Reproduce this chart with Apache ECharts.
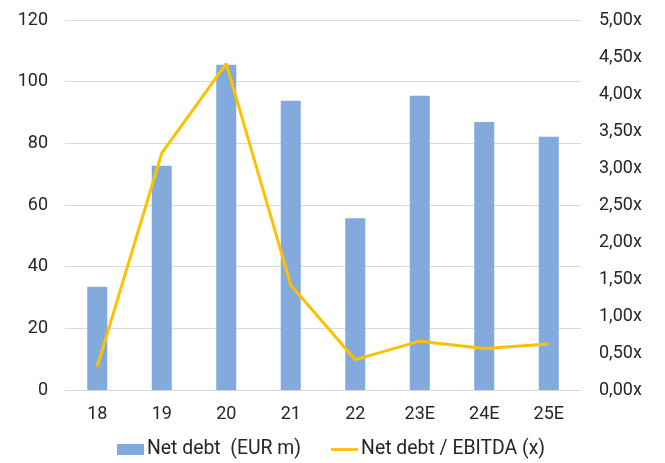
<!DOCTYPE html>
<html>
<head>
<meta charset="utf-8">
<script src="https://cdn.jsdelivr.net/npm/echarts@6/dist/echarts.min.js"></script>
<style>
  html, body { margin: 0; padding: 0; background: #fff; }
  #chart { width: 665px; height: 463px; }
</style>
</head>
<body>
<div id="chart"></div>
<script>
// values
const years = ['18', '19', '20', '21', '22', '23E', '24E', '25E'];
const netDebt = [33.5, 72.7, 105.5, 93.8, 55.7, 95.4, 86.9, 82.1];
const leverage = [0.32, 3.2, 4.41, 1.42, 0.41, 0.66, 0.56, 0.62];
const seriesNames = ['Net debt  (EUR m)', 'Net debt / EBITDA (x)'];

const font = 'Roboto';
const textColor = '#262626';
const gridColor = '#d9d9d9';

let mychart = echarts.init(document.getElementById('chart'));
let options = {
  animation: false,
  textStyle: { fontFamily: font },
  grid: { left: 65, right: 84, top: 20, bottom: 73 },
  legend: {
    left: 112,
    top: 435,
    itemWidth: 27,
    itemHeight: 11,
    itemGap: 30,
    textStyle: { fontFamily: font, fontSize: 19.4, color: textColor, padding: [0, 0, 0, -2] },
    data: [
      { name: seriesNames[0], icon: 'rect' },
      // plain line, no marker, like the reference legend
      { name: seriesNames[1], icon: 'path://M0,0H29V3H0Z' }
    ]
  },
  xAxis: {
    type: 'category',
    data: years,
    axisTick: { show: false },
    axisLine: { lineStyle: { color: gridColor, width: 1 } },
    axisLabel: { color: textColor, fontSize: 18, margin: 15, fontFamily: font }
  },
  yAxis: [
    {
      type: 'value',
      min: 0,
      max: 120,
      interval: 20,
      axisLabel: { color: textColor, fontSize: 18, margin: 17, fontFamily: font },
      splitLine: { lineStyle: { color: gridColor, width: 1 } }
    },
    {
      type: 'value',
      min: 0,
      max: 5,
      interval: 0.5,
      position: 'right',
      axisLabel: {
        color: textColor,
        fontSize: 18,
        margin: 18,
        fontFamily: font,
        formatter: v => v.toFixed(2).replace('.', ',') + 'x'
      },
      splitLine: { show: false }
    }
  ],
  series: [
    {
      name: seriesNames[0],
      type: 'bar',
      barWidth: 20,
      itemStyle: { color: '#82aadc' },
      data: netDebt
    },
    {
      name: seriesNames[1],
      type: 'line',
      yAxisIndex: 1,
      symbol: 'none',
      lineStyle: { color: '#ffc000', width: 3 },
      itemStyle: { color: '#ffc000' },
      data: leverage
    }
  ]
};
mychart.setOption(options);
</script>
</body>
</html>
